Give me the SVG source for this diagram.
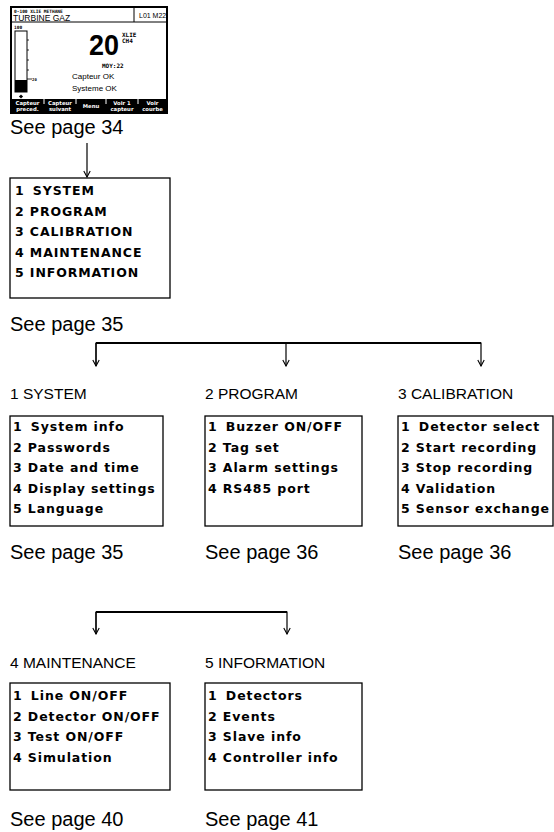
<svg xmlns="http://www.w3.org/2000/svg" width="554" height="832" viewBox="0 0 554 832">
<defs>
<style>
.see{font-family:"Liberation Sans",Arial,sans-serif;font-size:20px;fill:#000}
.hd{font-family:"Liberation Sans",Arial,sans-serif;font-size:15.5px;fill:#000}
.mi{font-family:"DejaVu Sans",Verdana,sans-serif;font-weight:bold;font-size:12.5px;letter-spacing:0.9px;fill:#000}
.box{fill:#fff;stroke:#000;stroke-width:1.3}
.conn{fill:none;stroke:#000;stroke-width:1.2}
.bar{fill:none;stroke:#000;stroke-width:2}
.px{font-family:"DejaVu Sans Mono",monospace;font-weight:bold;fill:#000}
.gs{font-family:"Liberation Sans",Arial,sans-serif;fill:#000}
.btn{font-family:"DejaVu Sans",sans-serif;font-weight:bold;font-size:5.3px;fill:#fff;text-anchor:middle}
</style>
<marker id="ah" markerWidth="8" markerHeight="8" refX="7" refY="4" orient="auto" markerUnits="userSpaceOnUse" viewBox="0 0 8 8">
<path d="M1,0.8 L7,4 L1,7.2" fill="none" stroke="#000" stroke-width="1.1"/>
</marker>
</defs>
<rect width="554" height="832" fill="#fff"/>

<g id="screen">
<rect x="11" y="7" width="156" height="106" fill="#fff" stroke="#000" stroke-width="2"/>
<line x1="11" y1="22" x2="167" y2="22" stroke="#000" stroke-width="1"/>
<line x1="134" y1="7" x2="134" y2="22" stroke="#000" stroke-width="1"/>
<text class="px" x="14" y="12.5" font-size="4.5">0-100  XLIE  METHANE</text>
<text class="gs" x="13" y="20.5" font-size="8.5">TURBINE GAZ</text>
<text class="gs" x="139" y="18" font-size="7">L01 M22</text>
<text class="px" x="14" y="29" font-size="4.5">100</text>
<rect x="15" y="31" width="12" height="61" fill="#fff" stroke="#000" stroke-width="1"/>
<rect x="15" y="80" width="12" height="12" fill="#000"/>
<g stroke="#000" stroke-width="0.8">
<line x1="27" y1="40" x2="29" y2="40"/>
<line x1="27" y1="50" x2="29" y2="50"/>
<line x1="27" y1="60" x2="29" y2="60"/>
<line x1="27" y1="70" x2="29" y2="70"/>
<line x1="27" y1="79" x2="32" y2="79"/>
</g>
<text class="px" x="32" y="80.5" font-size="4">20</text>
<rect x="19.5" y="95" width="3" height="3" fill="#000" transform="rotate(45 21 96.5)"/>
<text class="gs" x="89" y="54.5" font-size="30" font-weight="bold" textLength="30" lengthAdjust="spacingAndGlyphs">20</text>
<text class="px" x="122" y="37" font-size="6">XLIE</text>
<text class="px" x="122" y="43" font-size="6">CH4</text>
<text class="px" x="102" y="67.5" font-size="6">MOY:22</text>
<text class="gs" x="72" y="78.5" font-size="8">Capteur OK</text>
<text class="gs" x="72" y="91" font-size="8">Systeme OK</text>
<rect x="11" y="99" width="156" height="14" fill="#000"/>
<g stroke="#fff" stroke-width="1">
<line x1="44" y1="99" x2="44" y2="104"/>
<line x1="76" y1="99" x2="76" y2="104"/>
<line x1="106" y1="99" x2="106" y2="104"/>
<line x1="138" y1="99" x2="138" y2="104"/>
</g>
<text class="btn" x="27.5" y="105">Capteur</text>
<text class="btn" x="27.5" y="111">preced.</text>
<text class="btn" x="60" y="105">Capteur</text>
<text class="btn" x="60" y="111">suivant</text>
<text class="btn" x="91" y="108">Menu</text>
<text class="btn" x="122" y="105">Voir 1</text>
<text class="btn" x="122" y="111">capteur</text>
<text class="btn" x="152.5" y="105">Voir</text>
<text class="btn" x="152.5" y="111">courbe</text>
</g>
<text class="see" x="10" y="134">See page 34</text>

<g id="connectors">
<line class="conn" x1="87" y1="143" x2="87" y2="177" marker-end="url(#ah)"/>
<polyline class="conn" points="96,366 96,343 481,343 481,366" marker-end="url(#ah)"/>
<line class="bar" x1="96" y1="343" x2="481" y2="343"/>
<line class="conn" x1="96" y1="343" x2="96" y2="366" marker-end="url(#ah)"/>
<line class="conn" x1="286" y1="343" x2="286" y2="366" marker-end="url(#ah)"/>
<polyline class="conn" points="96,634 96,612 287,612 287,634" marker-end="url(#ah)"/>
<line class="bar" x1="96" y1="612" x2="287" y2="612"/>
<line class="conn" x1="96" y1="612" x2="96" y2="634" marker-end="url(#ah)"/>
</g>

<g id="main-menu">
<rect class="box" x="10" y="178" width="160" height="120"/>
<text class="mi" x="15" y="195">1 <tspan dx="3">SYSTEM</tspan></text>
<text class="mi" x="15" y="215.5">2 PROGRAM</text>
<text class="mi" x="15" y="236">3 CALIBRATION</text>
<text class="mi" x="15" y="256.5">4 MAINTENANCE</text>
<text class="mi" x="15" y="277">5 INFORMATION</text>
</g>
<text class="see" x="10" y="331">See page 35</text>

<g id="system">
<text class="hd" x="10" y="399">1 SYSTEM</text>
<rect class="box" x="10" y="416" width="153" height="110"/>
<text class="mi" x="13" y="431">1 <tspan dx="3">System info</tspan></text>
<text class="mi" x="13" y="451.5">2 Passwords</text>
<text class="mi" x="13" y="472">3 Date and time</text>
<text class="mi" x="13" y="492.5">4 Display settings</text>
<text class="mi" x="13" y="513">5 Language</text>
<text class="see" x="10" y="559">See page 35</text>
</g>

<g id="program">
<text class="hd" x="205" y="399">2 PROGRAM</text>
<rect class="box" x="205" y="416" width="157" height="110"/>
<text class="mi" x="208" y="431">1 <tspan dx="3">Buzzer ON/OFF</tspan></text>
<text class="mi" x="208" y="451.5">2 Tag set</text>
<text class="mi" x="208" y="472">3 Alarm settings</text>
<text class="mi" x="208" y="492.5">4 RS485 port</text>
<text class="see" x="205" y="559">See page 36</text>
</g>

<g id="calibration">
<text class="hd" x="398" y="399">3 CALIBRATION</text>
<rect class="box" x="398" y="416" width="155" height="110"/>
<text class="mi" x="401" y="431">1 <tspan dx="3">Detector select</tspan></text>
<text class="mi" x="401" y="451.5">2 Start recording</text>
<text class="mi" x="401" y="472">3 Stop recording</text>
<text class="mi" x="401" y="492.5">4 Validation</text>
<text class="mi" x="401" y="513">5 Sensor exchange</text>
<text class="see" x="398" y="559">See page 36</text>
</g>

<g id="maintenance">
<text class="hd" x="10" y="668">4 MAINTENANCE</text>
<rect class="box" x="10" y="683" width="160" height="107"/>
<text class="mi" x="13" y="700">1 <tspan dx="3">Line ON/OFF</tspan></text>
<text class="mi" x="13" y="720.5">2 Detector ON/OFF</text>
<text class="mi" x="13" y="741">3 Test ON/OFF</text>
<text class="mi" x="13" y="761.5">4 Simulation</text>
<text class="see" x="10" y="826">See page 40</text>
</g>

<g id="information">
<text class="hd" x="205" y="668">5 INFORMATION</text>
<rect class="box" x="205" y="683" width="157" height="107"/>
<text class="mi" x="208" y="700">1 <tspan dx="3">Detectors</tspan></text>
<text class="mi" x="208" y="720.5">2 Events</text>
<text class="mi" x="208" y="741">3 Slave info</text>
<text class="mi" x="208" y="761.5">4 Controller info</text>
<text class="see" x="205" y="826">See page 41</text>
</g>
</svg>
